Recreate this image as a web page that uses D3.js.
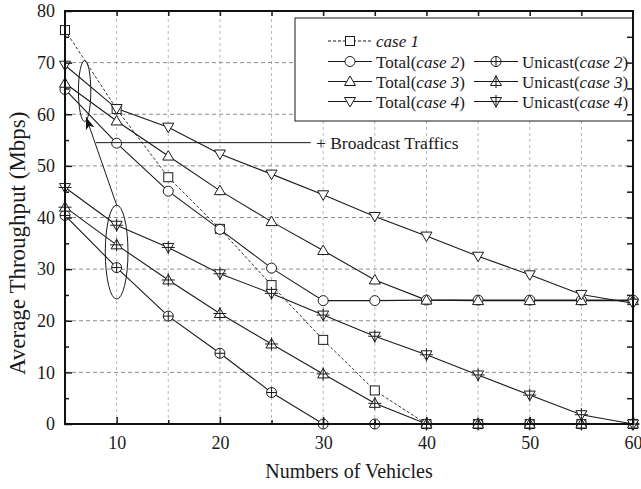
<!DOCTYPE html>
<html>
<head>
<meta charset="utf-8">
<script src="https://cdn.jsdelivr.net/npm/d3@7"></script>
<style>
  body { margin: 0; background: #fff; }
  svg { display: block; font-family: "Liberation Serif", "Times New Roman", serif; }
</style>
</head>
<body>
<div id="chart"></div>
<script>
// number of vehicles
const vehicles = [5, 10, 15, 20, 25, 30, 35, 40, 45, 50, 55, 60];

// average throughput (Mbps)
const case1 = [76.3, 61.0, 47.8, 37.8, 26.9, 16.3, 6.5, 0, 0, 0, 0, 0];
const totalCase2 = [64.8, 54.4, 45.1, 37.7, 30.2, 23.9, 23.9, 24.0, 24.0, 24.0, 24.0, 24.0];
const unicastCase2 = [40.4, 30.3, 20.9, 13.7, 6.1, 0, 0, 0, 0, 0, 0, 0];
const totalCase3 = [66.0, 58.7, 51.9, 45.2, 39.2, 33.6, 27.9, 24.0, 23.9, 23.9, 23.9, 23.9];
const unicastCase3 = [42.0, 34.7, 27.9, 21.4, 15.5, 9.7, 4.0, 0, 0, 0, 0, 0];
const totalCase4 = [69.5, 61.1, 57.5, 52.3, 48.4, 44.4, 40.2, 36.4, 32.5, 28.9, 25.1, 23.4];
const unicastCase4 = [45.8, 38.5, 34.2, 29.1, 25.3, 21.1, 17.0, 13.4, 9.5, 5.6, 1.8, 0];

const xTicks = [10, 20, 30, 40, 50, 60];
const yTicks = [0, 10, 20, 30, 40, 50, 60, 70, 80];

const series = [
  { name: "case 1", values: case1, marker: "square", dashed: true },
  { name: "Total(case 2)", values: totalCase2, marker: "circle" },
  { name: "Total(case 3)", values: totalCase3, marker: "up" },
  { name: "Total(case 4)", values: totalCase4, marker: "down" },
  { name: "Unicast(case 2)", values: unicastCase2, marker: "circle", plus: true },
  { name: "Unicast(case 3)", values: unicastCase3, marker: "up", plus: true },
  { name: "Unicast(case 4)", values: unicastCase4, marker: "down", plus: true }
];

const serif = "Liberation Serif, Times New Roman, serif";
const width = 641, height = 489;
const svg = d3.select("#chart").append("svg")
  .attr("width", width)
  .attr("height", height);

const x = d3.scaleLinear().domain([5, 60]).range([65, 633]);
const y = d3.scaleLinear().domain([0, 80]).range([424, 11]);

// grid
const grid = svg.append("g");
grid.selectAll("line.v")
  .data(d3.range(10, 60, 5))
  .join("line")
  .attr("x1", d => x(d)).attr("x2", d => x(d))
  .attr("y1", y(0)).attr("y2", y(80))
  .attr("stroke", "#b8b8b8")
  .attr("stroke-width", 1)
  .attr("stroke-dasharray", "3,3");
grid.selectAll("line.h")
  .data(d3.range(10, 80, 10))
  .join("line")
  .attr("x1", x(5)).attr("x2", x(60))
  .attr("y1", d => y(d)).attr("y2", d => y(d))
  .attr("stroke", "#8c8c8c")
  .attr("stroke-width", 1)
  .attr("stroke-dasharray", "4,3");

// marker shapes
function drawMarker(g, type, withPlus) {
  if (type === "circle") {
    g.append("circle").attr("r", 5);
  } else if (type === "square") {
    g.append("rect").attr("x", -4.5).attr("y", -4.5).attr("width", 9).attr("height", 9);
  } else if (type === "up") {
    g.append("path").attr("d", "M0,-5.5L5.5,4L-5.5,4Z");
  } else if (type === "down") {
    g.append("path").attr("d", "M0,5.5L5.5,-4L-5.5,-4Z");
  }
  g.selectAll("circle,rect,path")
    .attr("fill", "#fff")
    .attr("stroke", "#1a1a1a")
    .attr("stroke-width", 1);
  if (withPlus) {
    const arm = type === "circle" ? 5 : 6.5;
    g.append("path")
      .attr("d", `M0,${-arm}V${arm}M${-arm},0H${arm}`)
      .attr("stroke", "#1a1a1a")
      .attr("stroke-width", 1)
      .attr("fill", "none");
  }
}

const line = d3.line()
  .x((d, i) => x(vehicles[i]))
  .y(d => y(d));

// lines
svg.append("g")
  .selectAll("path")
  .data(series)
  .join("path")
  .attr("d", d => line(d.values))
  .attr("fill", "none")
  .attr("stroke", "#1a1a1a")
  .attr("stroke-width", d => d.dashed ? 0.9 : 1.1)
  .attr("stroke-dasharray", d => d.dashed ? "3,2" : null);

// markers
series.forEach(s => {
  const g = svg.append("g");
  s.values.forEach((v, i) => {
    const m = g.append("g").attr("transform", `translate(${x(vehicles[i])},${y(v)})`);
    drawMarker(m, s.marker, s.plus);
  });
});

// annotation: ellipses, arrow and label
const ann = svg.append("g").attr("fill", "none").attr("stroke", "#1a1a1a").attr("stroke-width", 1);
ann.append("ellipse")
  .attr("cx", x(6.9)).attr("cy", y(64.5))
  .attr("rx", x(5.6) - x(5)).attr("ry", y(0) - y(5.9));
ann.append("ellipse")
  .attr("cx", x(10)).attr("cy", y(33.3))
  .attr("rx", x(6.1) - x(5)).attr("ry", y(0) - y(9.1));
const tip = [x(7.05), y(59.4)];
const tail = [x(10), y(42.4)];
ann.append("line")
  .attr("x1", tail[0]).attr("y1", tail[1])
  .attr("x2", tip[0]).attr("y2", tip[1]);
const ang = Math.atan2(tip[1] - tail[1], tip[0] - tail[0]) * 180 / Math.PI;
svg.append("path")
  .attr("d", "M0,0L-12,-4.5L-9,0L-12,4.5Z")
  .attr("fill", "#111")
  .attr("transform", `translate(${tip[0]},${tip[1]}) rotate(${ang})`);
ann.append("line")
  .attr("x1", x(8.0)).attr("x2", x(28.8))
  .attr("y1", y(54.5)).attr("y2", y(54.5));
svg.append("text")
  .attr("x", x(29.3)).attr("y", y(54.5) + 6)
  .attr("font-family", serif)
  .attr("font-size", 17.5)
  .attr("fill", "#1a1a1a")
  .text("+ Broadcast Traffics");

// legend
const lg = svg.append("g");
lg.append("rect")
  .attr("x", 295).attr("y", 18)
  .attr("width", 338).attr("height", 103)
  .attr("fill", "#fff")
  .attr("stroke", "#1a1a1a")
  .attr("stroke-width", 1);

function legendText(t, px, py) {
  const m = t.match(/^(.*?)\(?(case \d)\)?$/);
  const txt = lg.append("text")
    .attr("x", px).attr("y", py + 6)
    .attr("font-family", serif)
    .attr("font-size", 17)
    .attr("fill", "#1a1a1a");
  if (m[1]) {
    txt.append("tspan").text(m[1] + "(");
    txt.append("tspan").attr("font-style", "italic").text(m[2]);
    txt.append("tspan").text(")");
  } else {
    txt.append("tspan").attr("font-style", "italic").text(m[2]);
  }
}

function legendItem(s, x0, py) {
  lg.append("line")
    .attr("x1", x0).attr("x2", x0 + 44)
    .attr("y1", py).attr("y2", py)
    .attr("stroke", "#1a1a1a")
    .attr("stroke-width", 1)
    .attr("stroke-dasharray", s.dashed ? "3,2" : null);
  const m = lg.append("g").attr("transform", `translate(${x0 + 22},${py})`);
  drawMarker(m, s.marker, s.plus);
  legendText(s.name, x0 + 48, py);
}

const rowY = [41, 61.5, 81.5, 101.5];
legendItem(series[0], 328, rowY[0]);
for (let k = 1; k <= 3; k++) {
  legendItem(series[k], 328, rowY[k]);
  legendItem(series[k + 3], 474, rowY[k]);
}

// axes (ticks pointing inward)
svg.append("g")
  .attr("transform", `translate(0,${y(0)})`)
  .call(d3.axisBottom(x).tickValues(xTicks).tickSizeInner(-7).tickSizeOuter(0).tickPadding(12))
  .call(g => g.select(".domain").remove())
  .call(g => g.selectAll("text").attr("font-size", 18).attr("font-family", serif).attr("fill", "#1a1a1a"));
svg.append("g")
  .attr("transform", `translate(0,${y(0)})`)
  .call(d3.axisBottom(x).tickValues(d3.range(15, 60, 10)).tickSizeInner(-4).tickSizeOuter(0).tickFormat(""))
  .call(g => g.select(".domain").remove());
svg.append("g")
  .attr("transform", `translate(0,${y(80)})`)
  .call(d3.axisTop(x).tickValues(d3.range(10, 60, 5)).tickSizeInner(-5).tickSizeOuter(0).tickFormat(""))
  .call(g => g.select(".domain").remove());
svg.append("g")
  .attr("transform", `translate(${x(5)},0)`)
  .call(d3.axisLeft(y).tickValues(yTicks).tickSizeInner(-7).tickSizeOuter(0).tickPadding(10))
  .call(g => g.select(".domain").remove())
  .call(g => g.selectAll("text").attr("font-size", 18).attr("font-family", serif).attr("fill", "#1a1a1a"));
svg.append("g")
  .attr("transform", `translate(${x(5)},0)`)
  .call(d3.axisLeft(y).tickValues(d3.range(5, 80, 10)).tickSizeInner(-4).tickSizeOuter(0).tickFormat(""))
  .call(g => g.select(".domain").remove());
svg.append("g")
  .attr("transform", `translate(${x(60)},0)`)
  .call(d3.axisRight(y).tickValues(d3.range(5, 80, 5)).tickSizeInner(-6).tickSizeOuter(0).tickFormat(""))
  .call(g => g.select(".domain").remove());
svg.selectAll(".tick line").attr("stroke", "#1a1a1a").attr("stroke-width", 1.5);

// frame
svg.append("rect")
  .attr("x", x(5)).attr("y", y(80))
  .attr("width", x(60) - x(5)).attr("height", y(0) - y(80))
  .attr("fill", "none")
  .attr("stroke", "#111")
  .attr("stroke-width", 2);

// axis titles
svg.append("text")
  .attr("x", (x(5) + x(60)) / 2).attr("y", 478)
  .attr("text-anchor", "middle")
  .attr("font-family", serif)
  .attr("font-size", 20)
  .attr("fill", "#1a1a1a")
  .text("Numbers of Vehicles");
svg.append("text")
  .attr("transform", `translate(25,${y(35)}) rotate(-90)`)
  .attr("text-anchor", "middle")
  .attr("font-family", serif)
  .attr("font-size", 23)
  .attr("fill", "#1a1a1a")
  .text("Average Throughput (Mbps)");
</script>
</body>
</html>
